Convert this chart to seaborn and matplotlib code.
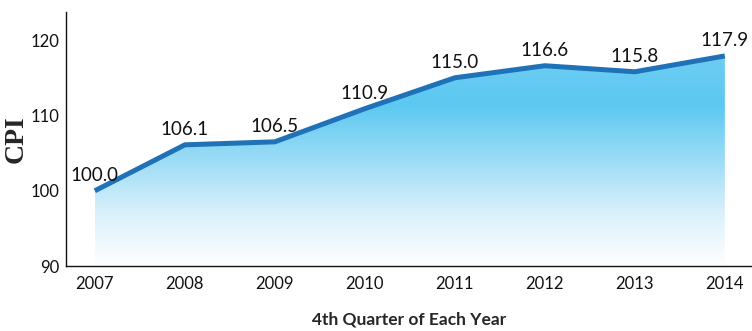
import numpy as np
import pandas as pd
import matplotlib
matplotlib.use("Agg")
import matplotlib.pyplot as plt
from matplotlib.colors import LinearSegmentedColormap
import seaborn as sns

years = ["2007", "2008", "2009", "2010", "2011", "2012", "2013", "2014"]
cpi = [100.0, 106.1, 106.5, 110.9, 115.0, 116.6, 115.8, 117.9]
y_ticks = [90, 100, 110, 120]

df = pd.DataFrame({"year": years, "cpi": cpi})
df["pos"] = np.arange(len(years))

sns.set_style("white")
plt.rcParams["font.family"] = ["Lato", "DejaVu Sans"]

fig = plt.figure(figsize=(7.52, 3.31), dpi=100)
ax = fig.add_axes([0.0878, 0.196, 0.912, 0.767])

ymin, ymax = 90, 123.7
ax.set_xlim(-0.32, 7.3)
ax.set_ylim(ymin, ymax)

# gradient area under the line
fill = ax.fill_between(df["pos"], df["cpi"], ymin, color="none", lw=0)
cmap = LinearSegmentedColormap.from_list(
    "cpi_fill", [(0.0, "#ffffff"), (0.25, "#d9f0fb"), (0.75, "#5cc8f1"), (1.0, "#6fcdf2")]
)
grad = np.linspace(0, 1, 256).reshape(-1, 1)
img = ax.imshow(grad, cmap=cmap, aspect="auto", origin="lower",
                extent=[0, 7, ymin, 118.5], zorder=1)
img.set_clip_path(fill.get_paths()[0], transform=ax.transData)

sns.lineplot(data=df, x="pos", y="cpi", ax=ax, color="#1f72b8", lw=3.6,
             zorder=3, solid_capstyle="butt", solid_joinstyle="miter")

for x, v in zip(df["pos"], df["cpi"]):
    ax.text(x, v + 0.9, f"{v:.1f}", ha="center", va="bottom", fontsize=13.5, color="#111111")

ax.set_xticks(df["pos"])
ax.set_xticklabels(years)
ax.set_yticks(y_ticks)
ax.tick_params(axis="both", length=0, labelsize=12, colors="#111111")
ax.tick_params(axis="x", pad=7)
ax.tick_params(axis="y", pad=5)

ax.set_xlabel("4th Quarter of Each Year", fontsize=12.5, fontweight="bold", labelpad=14)
ax.set_ylabel("CPI", fontsize=20, fontweight="bold", family=["Liberation Serif", "DejaVu Serif"])
ax.yaxis.set_label_coords(-0.054, 0.5)

for s in ["top", "right"]:
    ax.spines[s].set_visible(False)
for s in ["left", "bottom"]:
    ax.spines[s].set_color("#111111")
    ax.spines[s].set_linewidth(1.0)

fig.savefig("out.png", dpi=100)
